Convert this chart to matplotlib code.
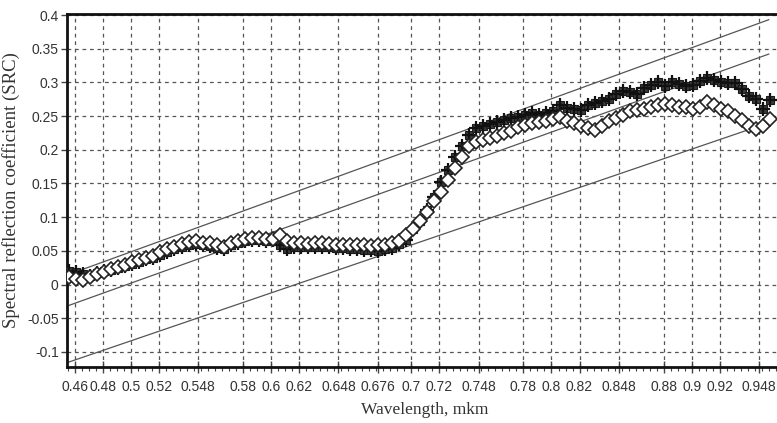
import matplotlib
matplotlib.use("Agg")
import matplotlib.pyplot as plt
from matplotlib.ticker import FixedLocator, MultipleLocator

# wavelengths (mkm) of the sampled points
wavelength = [0.456, 0.461, 0.466, 0.471, 0.476, 0.481, 0.486, 0.491, 0.496, 0.501,
              0.506, 0.511, 0.516, 0.521, 0.526, 0.531, 0.536, 0.541, 0.546, 0.551,
              0.556, 0.561, 0.566, 0.571, 0.576, 0.581, 0.586, 0.591, 0.596, 0.601,
              0.606, 0.611, 0.616, 0.621, 0.626, 0.631, 0.636, 0.641, 0.646, 0.651,
              0.656, 0.661, 0.666, 0.671, 0.676, 0.681, 0.686, 0.691, 0.696, 0.701,
              0.706, 0.711, 0.716, 0.721, 0.726, 0.731, 0.736, 0.741, 0.746, 0.751,
              0.756, 0.761, 0.766, 0.771, 0.776, 0.781, 0.786, 0.791, 0.796, 0.801,
              0.806, 0.811, 0.816, 0.821, 0.826, 0.831, 0.836, 0.841, 0.846, 0.851,
              0.856, 0.861, 0.866, 0.871, 0.876, 0.881, 0.886, 0.891, 0.896, 0.901,
              0.906, 0.911, 0.916, 0.921, 0.926, 0.931, 0.936, 0.941, 0.946, 0.951,
              0.956]

# filled markers series
src_dark = [0.020, 0.019, 0.015, 0.013, 0.017, 0.020, 0.022, 0.025, 0.027, 0.030,
            0.034, 0.038, 0.040, 0.044, 0.048, 0.052, 0.056, 0.058, 0.060, 0.058,
            0.057, 0.054, 0.053, 0.058, 0.062, 0.064, 0.066, 0.066, 0.064, 0.066,
            0.058, 0.052, 0.055, 0.056, 0.055, 0.056, 0.055, 0.055, 0.054, 0.054,
            0.053, 0.052, 0.051, 0.051, 0.050, 0.052, 0.054, 0.060, 0.066, 0.082,
            0.095, 0.110, 0.130, 0.152, 0.170, 0.190, 0.206, 0.222, 0.232, 0.236,
            0.238, 0.241, 0.244, 0.247, 0.248, 0.252, 0.254, 0.251, 0.254, 0.258,
            0.266, 0.262, 0.260, 0.259, 0.266, 0.270, 0.272, 0.276, 0.283, 0.287,
            0.285, 0.283, 0.291, 0.296, 0.300, 0.294, 0.300, 0.298, 0.294, 0.296,
            0.302, 0.307, 0.304, 0.301, 0.299, 0.299, 0.290, 0.280, 0.275, 0.260,
            0.274]

# open diamonds series
src_open = [0.011, 0.008, 0.007, 0.011, 0.015, 0.019, 0.023, 0.026, 0.029, 0.033,
            0.036, 0.040, 0.043, 0.048, 0.052, 0.056, 0.060, 0.063, 0.064, 0.062,
            0.061, 0.058, 0.055, 0.062, 0.064, 0.067, 0.069, 0.069, 0.068, 0.068,
            0.073, 0.065, 0.062, 0.061, 0.060, 0.061, 0.061, 0.060, 0.059, 0.059,
            0.059, 0.058, 0.058, 0.057, 0.058, 0.059, 0.061, 0.065, 0.074, 0.083,
            0.094, 0.107, 0.124, 0.138, 0.155, 0.173, 0.190, 0.206, 0.211, 0.214,
            0.217, 0.221, 0.225, 0.228, 0.234, 0.237, 0.239, 0.241, 0.243, 0.245,
            0.248, 0.243, 0.239, 0.236, 0.233, 0.229, 0.236, 0.242, 0.247, 0.252,
            0.257, 0.259, 0.261, 0.263, 0.266, 0.268, 0.266, 0.264, 0.264, 0.261,
            0.263, 0.271, 0.266, 0.261, 0.258, 0.250, 0.244, 0.236, 0.231, 0.235,
            0.246]

# three straight guide lines (start / end)
line_x = [0.4543, 0.955]
line_upper = [0.014, 0.393]
line_middle = [-0.032, 0.342]
line_lower = [-0.116, 0.240]

xtick_vals = [0.46, 0.48, 0.5, 0.52, 0.548, 0.58, 0.6, 0.62, 0.648, 0.676, 0.7,
              0.72, 0.748, 0.78, 0.8, 0.82, 0.848, 0.88, 0.9, 0.92, 0.948]
xtick_labels = ["0.46", "0.48", "0.5", "0.52", "0.548", "0.58", "0.6", "0.62",
                "0.648", "0.676", "0.7", "0.72", "0.748", "0.78", "0.8", "0.82",
                "0.848", "0.88", "0.9", "0.92", "0.948"]
ytick_vals = [-0.1, -0.05, 0, 0.05, 0.1, 0.15, 0.2, 0.25, 0.3, 0.35, 0.4]
ytick_labels = ["-0.1", "-0.05", "0", "0.05", "0.1", "0.15", "0.2", "0.25",
                "0.3", "0.35", "0.4"]

tick_font = ["Liberation Sans", "DejaVu Sans"]
label_font = ["Liberation Serif", "DejaVu Serif"]

fig = plt.figure(figsize=(7.77, 4.23), dpi=100)
ax = fig.add_axes([67 / 777, 56 / 423, 710 / 777, 353 / 423])

# guide lines
for ys in (line_upper, line_middle, line_lower):
    ax.plot(line_x, ys, color="#555555", lw=0.9, zorder=2)

# data
ax.plot(wavelength, src_dark, linestyle="none", marker="s", ms=6,
        mfc="#3a3a3a", mec="#1a1a1a", mew=0.8, zorder=3)
ax.plot(wavelength, src_dark, linestyle="none", marker="+", ms=10,
        mec="#111111", mew=1.6, zorder=3)
ax.plot(wavelength, src_open, linestyle="none", marker="D", ms=7,
        mfc="white", mec="#222222", mew=1.2, zorder=4)

ax.set_xlim(0.4543, 0.9609)
ax.set_ylim(-0.1224, 0.4015)

ax.xaxis.set_major_locator(FixedLocator(xtick_vals))
ax.set_xticklabels(xtick_labels)
ax.xaxis.set_minor_locator(MultipleLocator(0.005))
ax.yaxis.set_major_locator(FixedLocator(ytick_vals))
ax.set_yticklabels(ytick_labels)

for lbl in ax.get_xticklabels() + ax.get_yticklabels():
    lbl.set_family(tick_font)
    lbl.set_fontsize(10)
    lbl.set_color("#333333")

ax.tick_params(axis="x", which="major", direction="inout", length=8, width=1,
               color="#444444", pad=5)
ax.tick_params(axis="x", which="minor", direction="out", length=3, width=0.8,
               color="#444444")
ax.tick_params(axis="y", which="major", direction="out", length=4, width=1,
               color="#444444", pad=2)

ax.grid(True, which="major", color="#555555", linestyle=(0, (3, 3)), lw=0.9)
ax.set_axisbelow(True)

for side in ("left", "bottom", "top"):
    ax.spines[side].set_linewidth(2)
    ax.spines[side].set_color("#111111")
ax.spines["right"].set_visible(False)

ax.set_xlabel("Wavelength, mkm", family=label_font, fontsize=12.5, color="#333333")
ax.xaxis.set_label_coords(0.504, -0.098)
ax.set_ylabel("Spectral reflection coefficient (SRC)", family=label_font,
              fontsize=13.5, color="#333333")
ax.yaxis.set_label_coords(-0.066, 0.5)

fig.savefig("out.png", dpi=100)
